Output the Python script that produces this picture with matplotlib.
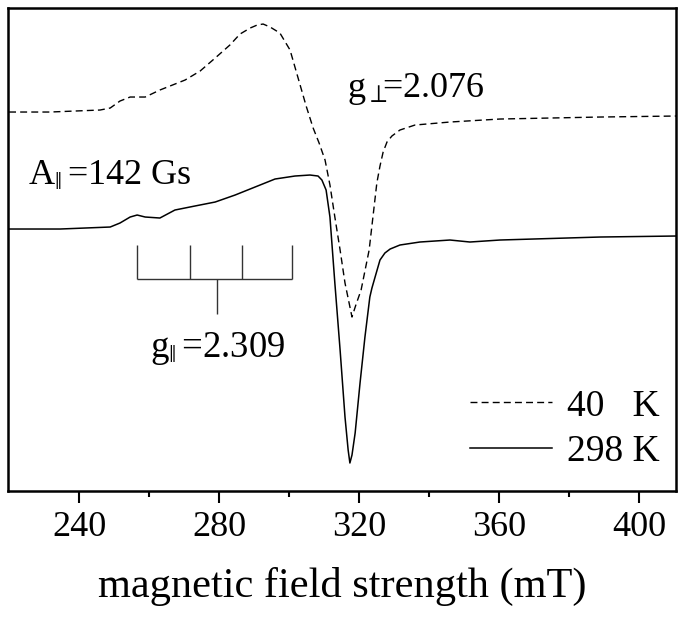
import matplotlib
matplotlib.use("Agg")
import matplotlib.pyplot as plt

plt.rcParams['font.family'] = ['Liberation Serif', 'DejaVu Serif']
plt.rcParams['mathtext.fontset'] = 'custom'
plt.rcParams['mathtext.rm'] = 'Liberation Serif'
plt.rcParams['mathtext.it'] = 'Liberation Serif'

# 40 K spectrum (dashed), field in mT, signal in arbitrary units
field_40 = [220.0, 231.7, 246.0, 248.9, 251.7, 254.6, 258.9, 263.1, 270.3, 274.6,
            278.9, 283.1, 286.0, 288.9, 290.9, 292.6, 294.6, 297.4, 300.3, 302.6,
            304.9, 306.9, 308.6, 310.3, 311.7, 313.1, 314.6, 316.0, 318.0, 319.1,
            320.6, 322.9, 325.1, 326.0, 326.9, 328.0, 329.4, 331.7, 336.0, 346.0,
            360.3, 388.9, 410.6]
signal_40 = [379, 379, 381, 383, 390, 394, 394, 401, 411, 420,
             433, 446, 457, 463, 466, 467, 464, 458, 441, 413,
             385, 363, 348, 331, 306, 274, 241, 208, 174, 186,
             201, 241, 308, 325, 339, 349, 355, 361, 366, 369,
             372, 374, 375]

# 298 K spectrum (solid)
field_298 = [220.0, 234.6, 248.9, 251.7, 254.6, 256.6, 258.9, 263.1, 267.4, 273.1,
             278.9, 284.6, 290.3, 296.0, 301.7, 306.0, 308.3, 309.4, 310.6, 311.7,
             313.1, 314.6, 316.0, 316.9, 317.4, 318.0, 318.9, 320.3, 321.7, 323.1,
             323.7, 324.6, 326.0, 327.4, 328.9, 331.7, 337.4, 346.0, 351.7, 360.3,
             388.9, 410.6]
signal_298 = [262, 262, 264, 268, 274, 276, 274, 273, 281, 285,
              289, 296, 304, 312, 315, 316, 315, 311, 301, 274,
              208, 141, 74, 41, 28, 36, 58, 108, 154, 194,
              203, 214, 231, 238, 242, 246, 249, 251, 249, 251,
              254, 255]

# hyperfine stick diagram (mT)
hf_lines = [256.6, 271.7, 286.6, 300.9]
hf_center = 279.4
hf_top, hf_bar, hf_stem = 246, 212, 177

fig = plt.figure(figsize=(6.85, 6.18), dpi=100)
ax = fig.add_axes([0.0117, 0.2055, 0.9752, 0.7815])

ax.plot(field_40, signal_40, color='black', lw=1.0, ls=(0, (5, 3)), label='40   K')
ax.plot(field_298, signal_298, color='black', lw=1.1, label='298 K')

ax.vlines(hf_lines, hf_bar, hf_top, color='#333333', lw=1.0)
ax.hlines(hf_bar, hf_lines[0], hf_lines[-1], color='#333333', lw=1.0)
ax.vlines(hf_center, hf_stem, hf_bar, color='#333333', lw=1.0)

ax.text(316.6, 394, r'g$_{\perp}\!\!$=2.076', fontsize=26, va='baseline')
ax.text(225.4, 306, r'A$_{\Vert}\,$=142 Gs', fontsize=26, va='baseline')
ax.text(260.4, 134, r'g$_{\Vert}\,$=2.309', fontsize=26.5, va='baseline')

ax.set_xlim(219.7, 410.6)
ax.set_ylim(0, 483)
ax.set_xticks([240, 280, 320, 360, 400])
ax.set_xticks([260, 300, 340, 380], minor=True)
ax.set_yticks([])
ax.tick_params(axis='x', which='major', direction='out', length=8.6, width=1.5,
               labelsize=26, pad=5.5)
ax.tick_params(axis='x', which='minor', direction='out', length=4.3, width=1.5)
for s in ax.spines.values():
    s.set_linewidth(1.8)
ax.set_xlabel('magnetic field strength (mT)', fontsize=30.5, labelpad=17)

ax.legend(loc='lower right', bbox_to_anchor=(0.976, 0.045), frameon=False,
          fontsize=27, handlelength=2.2, handletextpad=0.4, labelspacing=0.3,
          borderpad=0, borderaxespad=0)

fig.savefig('out.png', dpi=100)
